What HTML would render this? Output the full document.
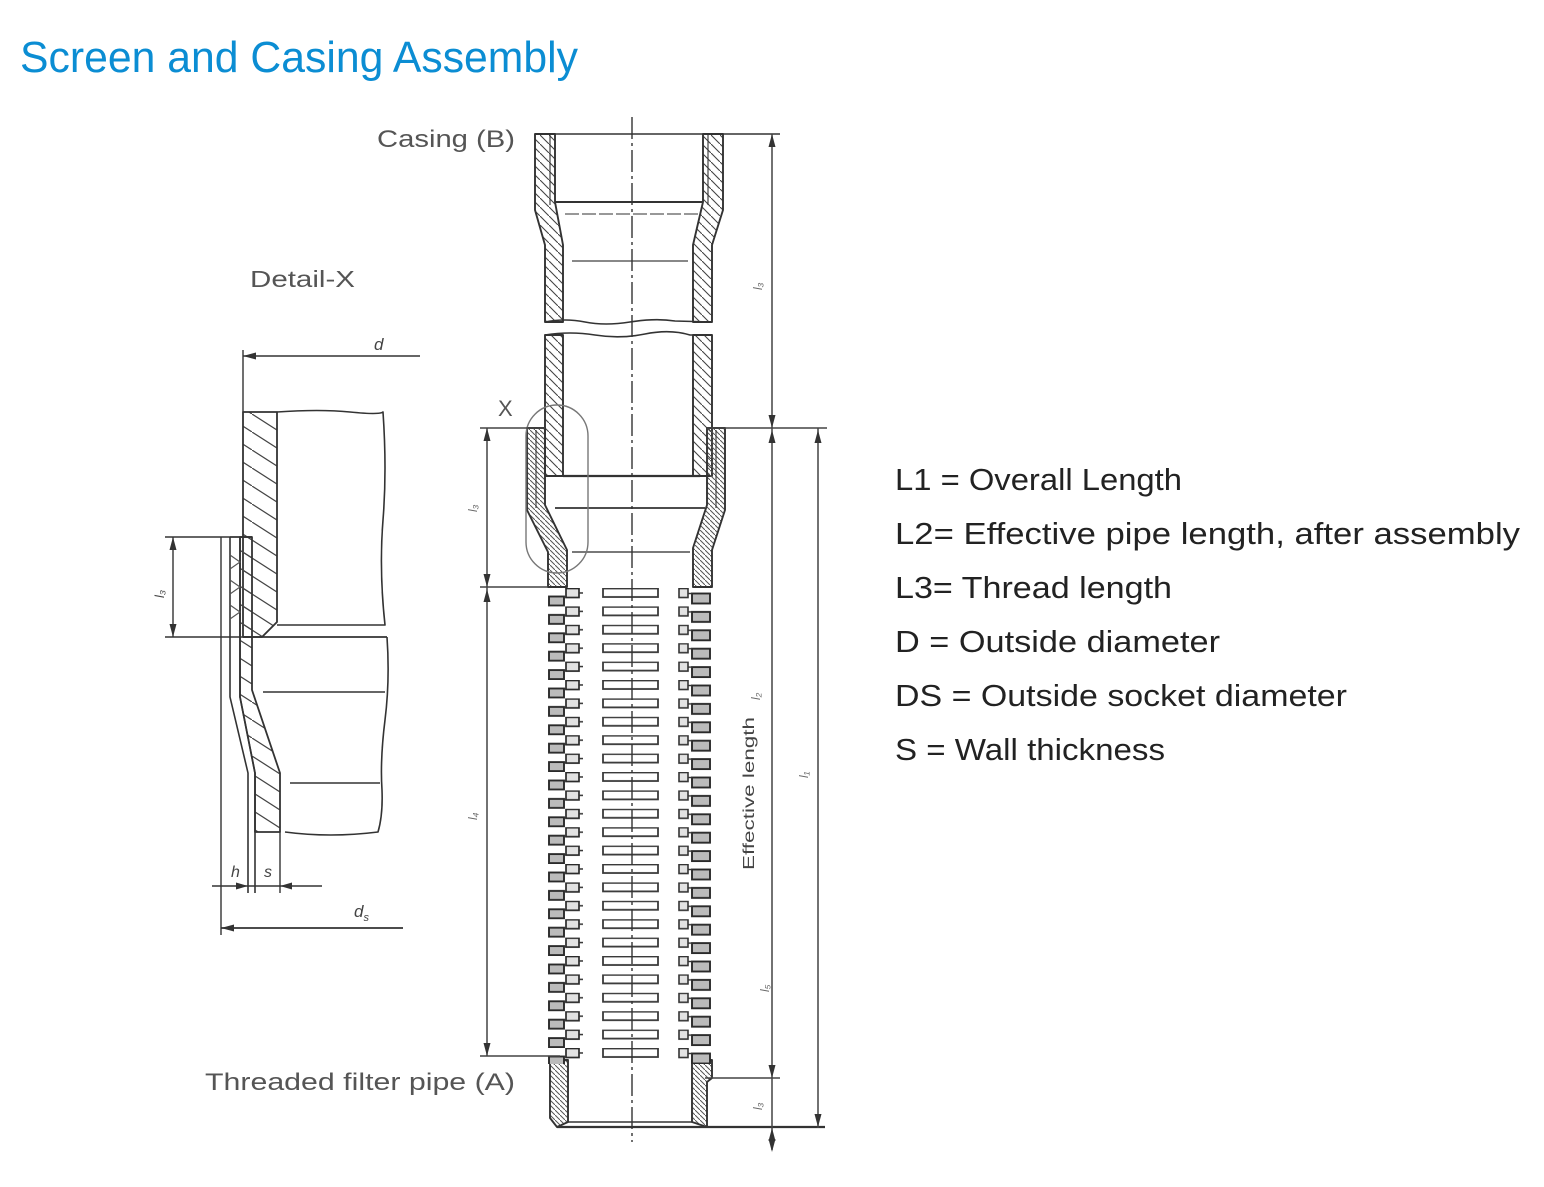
<!DOCTYPE html>
<html>
<head>
<meta charset="utf-8">
<style>
html,body{margin:0;padding:0;background:#fff;}
svg{display:block;}
text{font-family:"Liberation Sans",sans-serif;}
</style>
</head>
<body>
<svg width="1544" height="1187" viewBox="0 0 1544 1187" xmlns="http://www.w3.org/2000/svg">
<defs>
  <pattern id="h1" patternUnits="userSpaceOnUse" width="9" height="9">
    <path d="M0,0 L9,9" stroke="#444" stroke-width="1.1"/>
  </pattern>
  <pattern id="h2" patternUnits="userSpaceOnUse" width="5" height="5">
    <path d="M0,0 L5,5" stroke="#555" stroke-width="1"/>
  </pattern>
  <pattern id="hd" patternUnits="userSpaceOnUse" width="28" height="18">
    <path d="M0,0 L28,18" stroke="#444" stroke-width="1.2"/>
  </pattern>
  <pattern id="scr" patternUnits="userSpaceOnUse" x="0" y="588" width="1544" height="18.4">
    <rect x="603" y="0.5" width="55" height="8.5" fill="none" stroke="#3a3a3a" stroke-width="1.8"/>
    <rect x="549" y="8.5" width="15" height="9" fill="#bbb" stroke="#2a2a2a" stroke-width="1.9"/>
    <rect x="566" y="0.5" width="13" height="9" fill="#e2e2e2" stroke="#2a2a2a" stroke-width="1.7"/>
    <path d="M564,9 L566,9 M579,5 L583,5" stroke="#333" stroke-width="1.5"/>
    <rect x="679" y="0.5" width="9" height="9" fill="#e2e2e2" stroke="#333" stroke-width="1.6"/>
    <rect x="692" y="5.5" width="18" height="10" fill="#bbb" stroke="#2a2a2a" stroke-width="1.9"/>
    <path d="M688,5.5 L692,5.5" stroke="#333" stroke-width="1.4"/>
  </pattern>
</defs>

<!-- Title -->
<text x="20" y="72" font-size="44" fill="#0b8dd3" textLength="558" lengthAdjust="spacingAndGlyphs">Screen and Casing Assembly</text>

<!-- Legend -->
<g font-size="31" fill="#222">
  <text x="895" y="490" textLength="287" lengthAdjust="spacingAndGlyphs">L1 = Overall Length</text>
  <text x="895" y="544" textLength="625" lengthAdjust="spacingAndGlyphs">L2= Effective pipe length, after assembly</text>
  <text x="895" y="598" textLength="277" lengthAdjust="spacingAndGlyphs">L3= Thread length</text>
  <text x="895" y="652" textLength="325" lengthAdjust="spacingAndGlyphs">D = Outside diameter</text>
  <text x="895" y="706" textLength="452" lengthAdjust="spacingAndGlyphs">DS = Outside socket diameter</text>
  <text x="895" y="760" textLength="270" lengthAdjust="spacingAndGlyphs">S = Wall thickness</text>
</g>

<!-- Drawing labels -->
<g fill="#555">
  <text x="377" y="147" font-size="24" textLength="138" lengthAdjust="spacingAndGlyphs">Casing (B)</text>
  <text x="250" y="287" font-size="23" textLength="105" lengthAdjust="spacingAndGlyphs">Detail-X</text>
  <text x="205" y="1090" font-size="24" textLength="310" lengthAdjust="spacingAndGlyphs">Threaded filter pipe (A)</text>
  <text x="498" y="416" font-size="22">X</text>
</g>

<!-- ================= MAIN PIPE ================= -->
<g stroke="#333" stroke-width="1.9" fill="none" stroke-linejoin="round">
  <!-- upper casing piece -->
  <path d="M535,134 L555,134 L555,202 L563,245 L563,322 L545,322 L545,245 L535,210 Z" fill="url(#h1)"/>
  <path d="M703,134 L723,134 L723,210 L712,245 L712,322 L693,322 L693,245 L703,202 Z" fill="url(#h1)"/>
  <path d="M550,134 L550,205 M708,134 L708,205" stroke-width="1.1"/>
  <path d="M535,134 L780,134" stroke-width="1.5"/>
  <path d="M555,202 L703,202" stroke-width="2"/>
  <path d="M565,214 L700,214" stroke="#777" stroke-width="1.5" stroke-dasharray="14 3"/>
  <path d="M572,261 L688,261" stroke="#777" stroke-width="1.7"/>
  <path d="M545,322 Q565,318 585,322 T630,322 T675,321 L712,322" stroke-width="1.6"/>
  <!-- second casing piece -->
  <path d="M545,335 Q570,331 595,335 T645,334 T690,335 L712,335" stroke-width="1.6"/>
  <path d="M545,335 L563,335 L563,476 L545,476 Z" fill="url(#h1)"/>
  <path d="M693,335 L712,335 L712,476 L693,476 Z" fill="url(#h1)"/>
  <path d="M563,476 L700,476" stroke-width="2.2"/>

  <!-- filter socket -->
  <path d="M527,428 L545,428 L545,505 L567,550 L567,587 L548,587 L548,552 L527,510 Z" fill="url(#h2)"/>
  <path d="M707,428 L725,428 L725,510 L712,550 L712,587 L693,587 L693,548 L707,505 Z" fill="url(#h2)"/>
  <path d="M536,430 L536,508 M716,430 L716,508" stroke-width="1.1"/>
  <path d="M555,508 L705,508" stroke-width="1.8"/>
  <path d="M572,552 L690,552" stroke="#666" stroke-width="1.7"/>

  <!-- detail X outline -->
  <rect x="526" y="405" width="62" height="168" rx="31" ry="31" stroke="#777" stroke-width="1.4"/>

  <!-- bottom plain section -->
  <path d="M550,1060 L568,1060 L568,1122 L557,1127 L550,1118 Z" fill="url(#h2)"/>
  <path d="M692,1060 L712,1060 L712,1078 L707,1082 L707,1127 L692,1122 Z" fill="url(#h2)"/>
  <path d="M557,1127 L825,1127" stroke-width="2.2"/>
  <path d="M568,1122 L692,1122" stroke-width="1.6"/>
</g>

<!-- screen section -->
<rect x="540" y="588" width="180" height="476" fill="url(#scr)"/>

<!-- centerline -->
<path d="M632,117 L632,1142" stroke="#333" stroke-width="1.4" stroke-dasharray="22 4 3 4"/>

<!-- dimensions main -->
<g stroke="#444" stroke-width="1.5" fill="none">
  <path d="M772,134 L772,1150"/>
  <path d="M818,428 L818,1128"/>
  <path d="M487,428 L487,1056"/>
  <path d="M480,428 L545,428 M707,428 L827,428"/>
  <path d="M480,587 L548,587"/>
  <path d="M480,1056 L560,1056"/>
  <path d="M705,1078 L780,1078"/>
</g>
<g fill="#333">
  <polygon points="772,134 768.5,147 775.5,147"/>
  <polygon points="772,428 768.5,415 775.5,415"/>
  <polygon points="772,430 768.5,443 775.5,443"/>
  <polygon points="772,1078 768.5,1065 775.5,1065"/>
  <polygon points="772,1128 768.5,1141 775.5,1141"/>
  <polygon points="772,1152 768.5,1139 775.5,1139"/>
  <polygon points="818,430 814.5,443 821.5,443"/>
  <polygon points="818,1127 814.5,1114 821.5,1114"/>
  <polygon points="487,428 483.5,441 490.5,441"/>
  <polygon points="487,587 483.5,574 490.5,574"/>
  <polygon points="487,589 483.5,602 490.5,602"/>
  <polygon points="487,1056 483.5,1043 490.5,1043"/>
</g>

<!-- small dimension labels -->
<g fill="#666" font-size="12" font-style="italic">
  <text transform="translate(762,290) rotate(-90)">l₃</text>
  <text transform="translate(477,512) rotate(-90)">l₃</text>
  <text transform="translate(477,820) rotate(-90)">l₄</text>
  <text transform="translate(808,778) rotate(-90)">l₁</text>
  <text transform="translate(769,992) rotate(-90)">l₅</text>
  <text transform="translate(762,1110) rotate(-90)">l₃</text>
  <text transform="translate(760,700) rotate(-90)">l₂</text>
</g>
<text transform="translate(754,870) rotate(-90)" font-size="16" fill="#444" textLength="153" lengthAdjust="spacingAndGlyphs">Effective length</text>

<!-- ================= DETAIL X ================= -->
<g stroke="#333" stroke-width="1.8" fill="none" stroke-linejoin="round">
  <!-- d dimension -->
  <path d="M243,350 L243,412" stroke-width="1.4"/>
  <path d="M243,356 L420,356" stroke-width="1.4"/>
  <!-- casing wall -->
  <path d="M243,412 L277,412 L277,622 L262,637 L243,637 Z" fill="url(#hd)"/>
  <path d="M277,412 Q320,409 350,412 T383,412 Q387,470 383,520 T385,625 L277,625" stroke-width="1.6"/>
  <path d="M243,637 L387,637" stroke-width="1.8"/>
  <!-- filter socket -->
  <path d="M221,537 L221,935" stroke-width="1.4"/>
  <path d="M230,537 L230,697 L248,773 L248,893" stroke-width="1.6"/>
  <path d="M240,537 L240,697 L255,773 L255,893" stroke-width="1.6"/>
  <path d="M240,537 L252,537 L252,690 L280,773 L280,832 L255,832 L255,773 L240,697 Z" fill="url(#hd)"/>
  <path d="M230,537 L252,537" />
  <path d="M230,555 L240,562 L230,569 M230,580 L240,587 L230,594 M230,605 L240,612 L230,619" stroke-width="1.1" stroke="#555"/>
  <path d="M280,832 L280,893" stroke-width="1.4"/>
  <path d="M387,637 Q390,680 385,720 T382,790 Q383,815 378,832 Q330,838 285,832" stroke-width="1.6"/>
  <path d="M263,692 L385,692" stroke-width="1.6"/>
  <path d="M290,783 L380,783" stroke-width="1.6"/>
  <!-- l3 dim -->
  <path d="M165,537 L230,537 M165,637 L252,637 M173,537 L173,637" stroke-width="1.4"/>
  <!-- h s dim -->
  <path d="M212,886 L322,886" stroke-width="1.4"/>
  <!-- ds dim -->
  <path d="M221,928 L403,928" stroke-width="1.8"/>
</g>
<g fill="#333">
  <polygon points="243,356 256,352.5 256,359.5"/>
  <polygon points="173,537 169.5,550 176.5,550"/>
  <polygon points="173,637 169.5,624 176.5,624"/>
  <polygon points="248,886 236,882.5 236,889.5"/>
  <polygon points="280,886 292,882.5 292,889.5"/>
  <polygon points="221,928 234,924.5 234,931.5"/>
</g>
<g fill="#444" font-style="italic">
  <text x="374" y="350" font-size="17">d</text>
  <text x="231" y="877" font-size="16">h</text>
  <text x="264" y="877" font-size="16">s</text>
  <text x="354" y="917" font-size="17">d<tspan font-size="11" dy="4">s</tspan></text>
  <text transform="translate(164,598) rotate(-90)" font-size="13">l₃</text>
</g>
</svg>
</body>
</html>
